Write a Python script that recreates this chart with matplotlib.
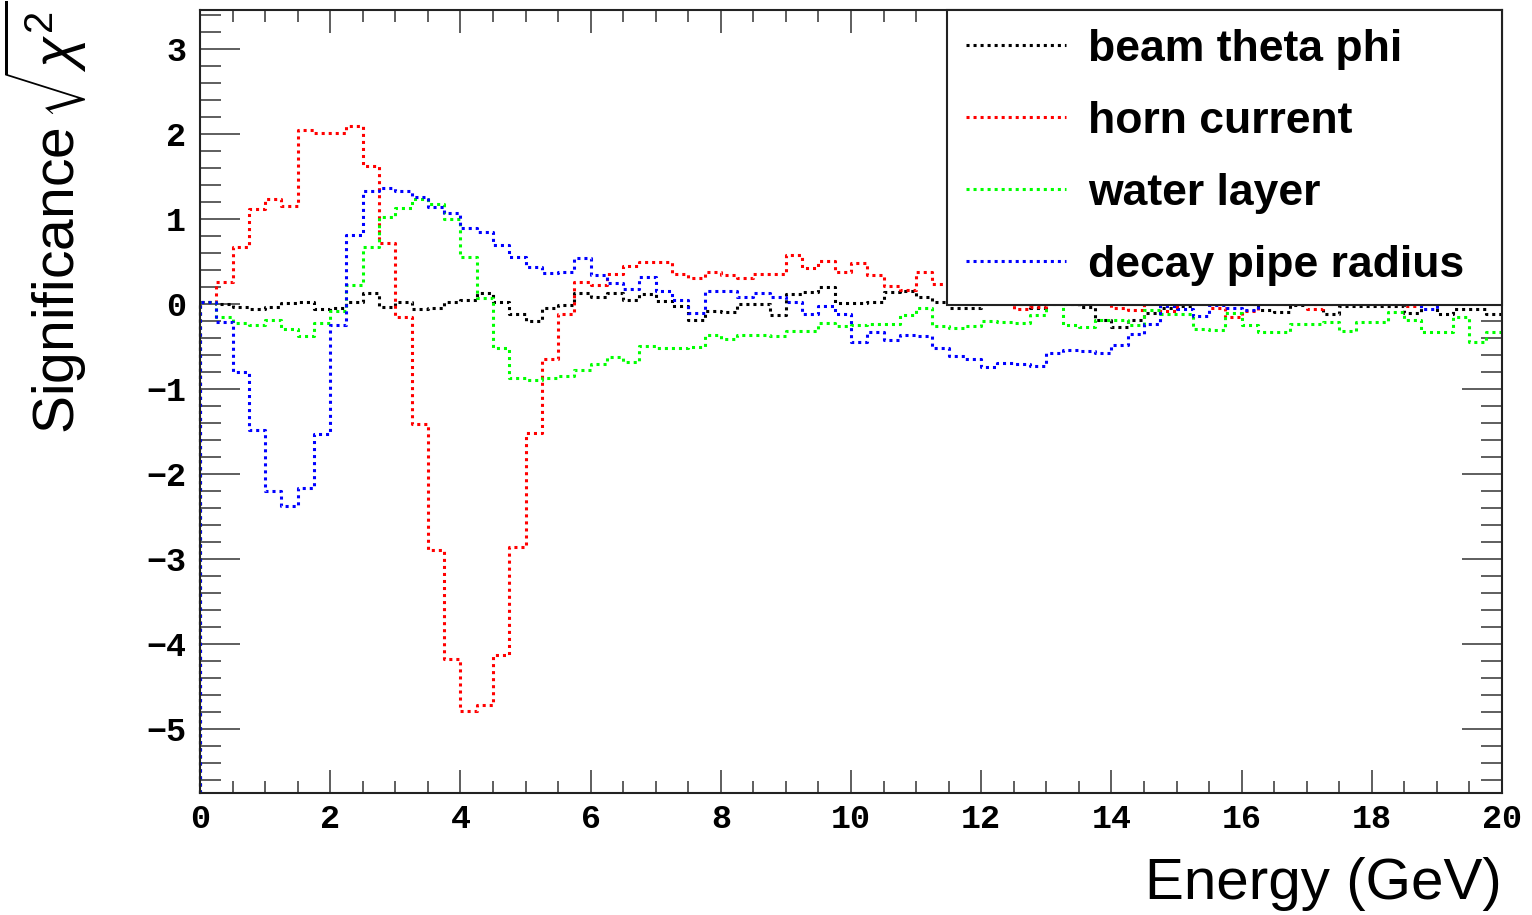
import numpy as np
import matplotlib
matplotlib.use("Agg")
from matplotlib import pyplot as plt
from matplotlib.ticker import MultipleLocator

plt.rcParams["font.family"] = ["Liberation Sans", "DejaVu Sans"]
plt.rcParams["mathtext.fontset"] = "custom"
plt.rcParams["mathtext.rm"] = "Liberation Sans"
plt.rcParams["mathtext.it"] = "Liberation Sans:italic"

# 80 bins of 0.25 GeV from 0 to 20
bin_edges = np.linspace(0, 20, 81)

beam_theta_phi = [
    0.02, 0.00, -0.03, -0.06, -0.03, 0.01, 0.03, -0.06, -0.05, 0.03,
    0.13, -0.03, 0.03, -0.06, -0.05, 0.03, 0.05, 0.13, 0.02, -0.11,
    -0.20, -0.05, -0.01, 0.13, 0.09, 0.13, 0.05, 0.12, 0.04, -0.02,
    -0.19, -0.08, -0.09, 0.00, 0.00, -0.13, 0.12, 0.14, 0.20, 0.01,
    0.01, 0.03, 0.14, 0.16, 0.08, 0.02, -0.04, -0.04, 0.02, 0.03,
    0.00, -0.04, 0.03, 0.00, -0.03, -0.19, -0.27, -0.19, -0.10, -0.05,
    -0.02, 0.02, 0.03, 0.02, 0.00, -0.07, -0.09, -0.01, 0.00, -0.12,
    -0.02, -0.02, -0.02, -0.02, -0.10, 0.00, -0.12, -0.06, -0.06, -0.11,
]

horn_current = [
    0.02, 0.26, 0.67, 1.12, 1.24, 1.16, 2.05, 2.01, 2.01, 2.09,
    1.63, 0.72, -0.15, -1.41, -2.89, -4.17, -4.78, -4.72, -4.13, -2.86,
    -1.52, -0.64, -0.11, 0.26, 0.23, 0.35, 0.45, 0.50, 0.49, 0.35,
    0.31, 0.38, 0.34, 0.31, 0.36, 0.36, 0.58, 0.43, 0.51, 0.38,
    0.48, 0.34, 0.21, 0.17, 0.38, 0.24, 0.12, 0.08, 0.10, 0.05,
    -0.06, -0.03, 0.05, 0.08, 0.06, 0.04, -0.05, -0.07, 0.03, -0.08,
    0.05, 0.08, -0.05, -0.15, -0.08, 0.03, 0.00, 0.00, -0.06, 0.00,
    0.04, 0.03, 0.00, 0.00, -0.02, 0.05, 0.06, 0.04, 0.03, 0.05,
]

water_layer = [
    0.02, -0.15, -0.22, -0.25, -0.19, -0.29, -0.37, -0.22, -0.08, 0.22,
    0.67, 1.02, 1.13, 1.24, 1.18, 1.00, 0.56, 0.07, -0.52, -0.87,
    -0.89, -0.87, -0.84, -0.78, -0.70, -0.62, -0.68, -0.49, -0.51, -0.51,
    -0.50, -0.36, -0.41, -0.36, -0.36, -0.37, -0.31, -0.32, -0.22, -0.26,
    -0.24, -0.23, -0.23, -0.13, -0.04, -0.26, -0.28, -0.26, -0.20, -0.21,
    -0.22, -0.13, 0.00, -0.24, -0.27, -0.19, -0.19, -0.25, -0.07, -0.12,
    -0.12, -0.29, -0.30, -0.10, -0.25, -0.33, -0.33, -0.23, -0.23, -0.21,
    -0.31, -0.21, -0.21, -0.09, -0.19, -0.33, -0.33, -0.15, -0.45, -0.33,
]

decay_pipe_radius = [
    0.02, -0.21, -0.80, -1.48, -2.20, -2.38, -2.16, -1.53, -0.25, 0.81,
    1.33, 1.37, 1.33, 1.26, 1.14, 1.07, 0.90, 0.85, 0.69, 0.56,
    0.44, 0.37, 0.38, 0.54, 0.34, 0.25, 0.18, 0.32, 0.16, 0.05,
    -0.10, 0.15, 0.15, 0.09, 0.13, 0.09, 0.03, -0.12, -0.02, -0.11,
    -0.44, -0.33, -0.42, -0.36, -0.37, -0.51, -0.61, -0.65, -0.74, -0.69,
    -0.70, -0.73, -0.57, -0.54, -0.55, -0.58, -0.48, -0.35, -0.23, -0.02,
    -0.06, -0.14, -0.01, -0.04, -0.07, 0.02, 0.04, 0.05, 0.03, 0.02,
    0.05, 0.03, 0.04, 0.02, 0.03, -0.06, 0.02, 0.03, 0.01, 0.02,
]

series_labels = ["beam theta phi", "horn current", "water layer", "decay pipe radius"]
series_colors = ["#000000", "#ff0000", "#00ff00", "#0000ff"]

y_min, y_max = -5.75, 3.46

fig = plt.figure(figsize=(15.32, 9.15), dpi=100)
ax = fig.add_axes([200 / 1532, 122 / 915, 1302 / 1532, 783 / 915])

for values, label, color in zip(
    [beam_theta_phi, horn_current, water_layer, decay_pipe_radius], series_labels, series_colors
):
    # ROOT-style histogram outline, starting from the bottom of the frame
    xs = np.concatenate([[bin_edges[0]], np.repeat(bin_edges, 2)[1:-1]])
    ys = np.concatenate([[y_min], np.repeat(values, 2)])
    ax.plot(xs, ys, color=color, lw=2.2, linestyle=(0, (1, 1.3)), label=label, clip_on=False)

ax.set_xlim(0, 20)
ax.set_ylim(y_min, y_max)

ax.xaxis.set_major_locator(MultipleLocator(2))
ax.xaxis.set_minor_locator(MultipleLocator(0.5))
ax.yaxis.set_major_locator(MultipleLocator(1))
ax.yaxis.set_minor_locator(MultipleLocator(0.2))
ax.tick_params(which="both", direction="in", top=True, right=True, color="#333333", width=1.1)
ax.tick_params(axis="x", which="major", length=16.5, pad=8)
ax.tick_params(axis="x", which="minor", length=8.6)
ax.tick_params(axis="y", which="major", length=29, pad=10)
ax.tick_params(axis="y", which="minor", length=15)
for lab in ax.get_xticklabels() + ax.get_yticklabels():
    lab.set_fontfamily(["Liberation Mono", "DejaVu Sans Mono"])
    lab.set_fontweight("bold")
    lab.set_fontsize(24)

for spine in ax.spines.values():
    spine.set_linewidth(1.5)
    spine.set_color("#222222")

ax.set_xlabel("Energy (GeV)", fontsize=42, loc="right", va="top")
ax.xaxis.set_label_coords(1.0, -0.082)
ax.set_ylabel(r"Significance$\,\sqrt{\chi^2}$", fontsize=41, loc="top")
ax.yaxis.set_label_coords(-0.085, 1.012)

leg = ax.legend(
    loc="upper right",
    bbox_to_anchor=(0.5737, 0.6258, 0.4263, 0.3742),
    mode="expand",
    borderaxespad=0,
    fancybox=False,
    framealpha=1,
    edgecolor="#222222",
    prop={"weight": "bold", "size": 32},
    handlelength=2.25,
    handletextpad=0.5,
    labelspacing=0.7,
    borderpad=0.42,
)
leg.get_frame().set_linewidth(1.5)

fig.savefig("out.png", dpi=100)
